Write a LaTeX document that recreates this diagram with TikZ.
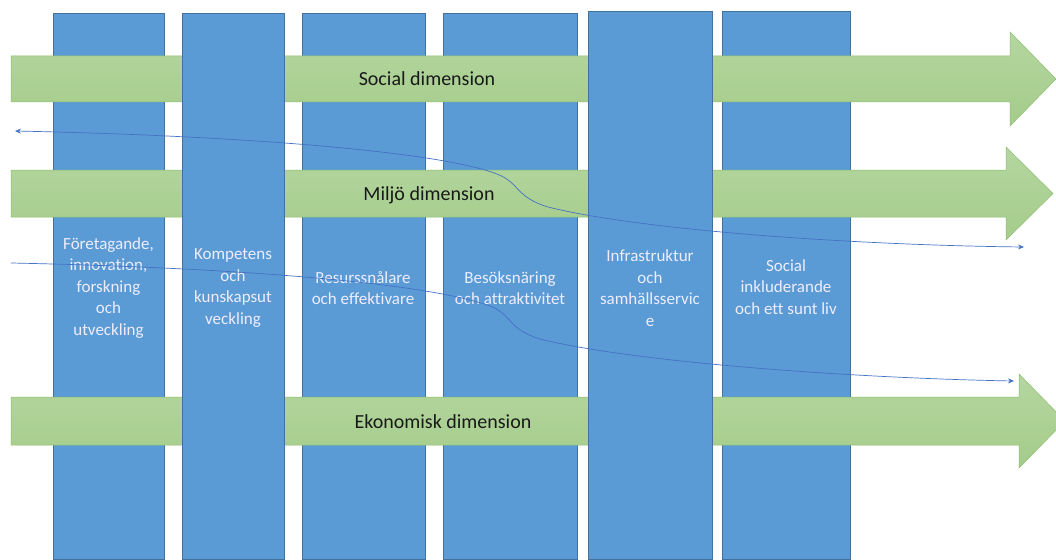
\documentclass[tikz,border=0pt]{standalone}
\usepackage{fontspec}
\setmainfont[Ligatures=NoCommon]{Carlito}
\usetikzlibrary{arrows.meta}
\definecolor{colblue}{HTML}{5B9BD5}
\definecolor{colborder}{HTML}{41719C}
\definecolor{gtop}{HTML}{B4D6A0}
\definecolor{gbot}{HTML}{A5CC8A}
\definecolor{gborder}{HTML}{8DBE6F}
\definecolor{flowblue}{HTML}{4472C4}
\begin{document}
\begin{tikzpicture}[x=1pt,y=-1pt,
  pillar/.style={draw=colborder, line width=0.6pt, fill=colblue, rectangle, anchor=north west, inner sep=0pt},
  band/.style={draw=gborder, line width=0.5pt, top color=gtop, bottom color=gbot},
  bandtext/.style={font=\fontsize{20}{24}\selectfont, text=black!90, anchor=base, inner sep=0pt},
  pillartext/.style={font=\fontsize{17}{21.5}\selectfont, text=white!93!blue, align=center, inner sep=0pt},
  flow/.style={draw=flowblue, line width=0.7pt},
  flowtip/.tip={Stealth[length=6pt,width=5pt]}
]
\useasboundingbox (0,0) rectangle (1056,559);
\fill[white] (0,0) rectangle (1056,559);

% pillars behind the bands
\node[pillar, minimum width=111pt, minimum height=546pt] (c1) at (53,13) {};
\node[pillar, minimum width=123pt, minimum height=546pt] (c3) at (302,13) {};
\node[pillar, minimum width=134pt, minimum height=546pt] (c4) at (443,13) {};
\node[pillar, minimum width=128pt, minimum height=548pt] (c6) at (722,11) {};

% bands (arrows)
\draw[band] (11,56) -- (1010,56) -- (1010,32) -- (1056,79) -- (1010,126) -- (1010,102) -- (11,102) -- cycle;
\draw[band] (11,170) -- (1006,170) -- (1006,147) -- (1053,193.5) -- (1006,240) -- (1006,217) -- (11,217) -- cycle;
\draw[band] (11,397) -- (1019,397) -- (1019,374) -- (1065,421) -- (1019,468) -- (1019,445) -- (11,445) -- cycle;

% pillars in front of the bands
\node[pillar, minimum width=102pt, minimum height=546pt] (c2) at (182,13) {};
\node[pillar, minimum width=124pt, minimum height=548pt] (c5) at (588,11) {};

% band labels
\node[bandtext] (tsoc) at (427,86) {Social dimension};
\node[bandtext] (tmil) at (429,200) {Miljö dimension};
\node[bandtext] (teko) at (443,428.5) {Ekonomisk dimension};

% pillar labels
\node[pillartext] (t1) at (108.5,288) {Företagande,\\innovation,\\forskning\\och\\utveckling};
\node[pillartext] (t2) at (233,288) {Kompetens\\och\\kunskapsut\\veckling};
\node[pillartext] (t3) at (363,288) {Resurssnålare\\och effektivare};
\node[pillartext] (t4) at (510,288) {Besöksnäring\\och attraktivitet};
\node[pillartext] (t5) at (650,288) {Infrastruktur\\och\\samhällsservic\\e};
\node[pillartext] (t6) at (786,287) {Social\\inkluderande\\och ett sunt liv};

% flow curves
\coordinate (f1a) at (15,131);
\coordinate (f1b) at (1024,247);
\coordinate (f2a) at (11,263);
\coordinate (f2b) at (1014,381);
\draw[flow, flowtip-flowtip] (f1a) .. controls (250,136) and (440,152) .. (497,174)
  .. controls (520,183) and (515,197) .. (548,207)
  .. controls (640,230) and (850,245) .. (f1b);
\draw[flow, -flowtip] (f2a) .. controls (250,268) and (430,284) .. (490,306)
  .. controls (513,315) and (507,329) .. (540,339)
  .. controls (632,362) and (850,378) .. (f2b);
\end{tikzpicture}
\end{document}
